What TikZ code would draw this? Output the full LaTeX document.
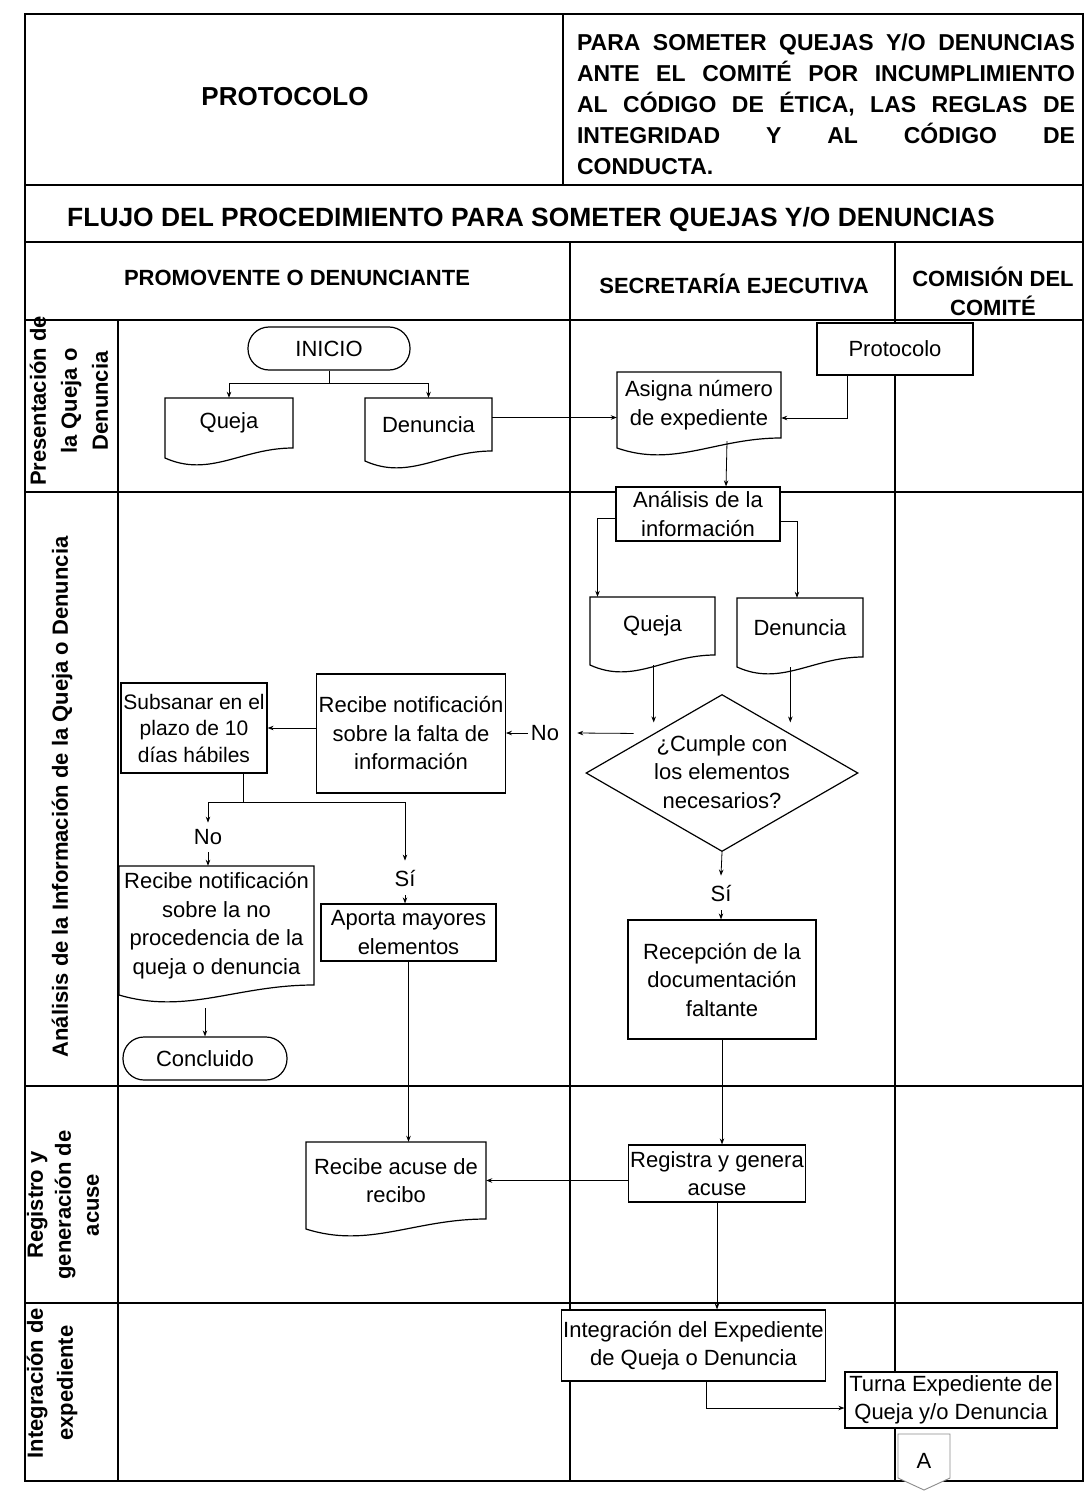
\documentclass[tikz,border=0pt]{standalone}
\usepackage{fontspec}
\setmainfont{Liberation Sans}
\usetikzlibrary{arrows.meta,shapes.geometric,calc}

\tikzset{
  base/.style={font=\fontsize{22}{28.5}\selectfont, inner sep=2pt},
  box/.style={base, draw, fill=white, line width=1.2pt, align=center},
  term/.style={box, rounded corners=21pt},
  doctxt/.style={base, align=center},
  docline/.style={draw, fill=white, line width=1.2pt},
  diashape/.style={draw, fill=white, line width=1.2pt, shape=diamond, inner sep=0pt, minimum width=272pt, minimum height=157pt},
  lbl/.style={base, inner sep=3pt},
  arr/.style={draw, line width=0.8pt, -{Stealth[length=6pt,width=4.5pt]}},
  conn/.style={draw, line width=0.8pt},
  tbl/.style={line width=1.8pt},
  col/.style={line width=1.3pt},
  hdr/.style={font=\bfseries\fontsize{22}{29}\selectfont, align=center},
  lane/.style={font=\bfseries\fontsize{22}{31}\selectfont, align=center, rotate=90},
}

% document shape: name, x0, top, x1, right-bottom corner, text
\newcommand\docnode[6]{%
  \path[docline] (#2,#3) -- (#4,#3) -- (#4,#5)
    .. controls ({#2+0.6*(#4-#2)},#5) and ({#2+0.35*(#4-#2)},{#5+30}) ..
    (#2,{#5+10}) -- cycle;
  \node[doctxt, minimum width={(#4-#2)*1pt}, minimum height={(#5-#3)*1pt}]
    (#1) at ({(#2+#4)/2},{(#3+#5)/2}) {#6};
}
\newcommand\fullline[1]{\leavevmode\hbox to 498pt{#1}}

\begin{document}
\begin{tikzpicture}[x=1pt,y=-1pt]
\useasboundingbox (0,0) rectangle (1085,1495);

% ---------- table ----------
\draw[tbl] (25,14) rectangle (1083,1481);
\draw[tbl] (563,14) -- (563,185);
\draw[tbl] (25,185) -- (1083,185);
\draw[tbl] (25,242) -- (1083,242);
\draw[tbl] (25,320) -- (1083,320);
\draw[col] (570,242) -- (570,1481);
\draw[col] (895,242) -- (895,1481);
\draw[col] (118,320) -- (118,1481);
\draw[tbl] (25,492) -- (1083,492);
\draw[tbl] (25,1086) -- (1083,1086);
\draw[tbl] (25,1303) -- (1083,1303);

% ---------- headers ----------
\node[font=\bfseries\fontsize{26}{30}\selectfont] (hprot) at (285,97) {PROTOCOLO};
\node[font=\bfseries\fontsize{23}{31}\selectfont, text width=498pt, align=left, inner sep=0pt] (hdesc) at (826,104) {%
\fullline{PARA\hfill SOMETER\hfill QUEJAS\hfill Y/O\hfill DENUNCIAS}\\
\fullline{ANTE\hfill EL\hfill COMITÉ\hfill POR\hfill INCUMPLIMIENTO}\\
\fullline{AL\hfill CÓDIGO\hfill DE\hfill ÉTICA,\hfill LAS\hfill REGLAS\hfill DE}\\
\fullline{INTEGRIDAD\hfill Y\hfill AL\hfill CÓDIGO\hfill DE}\\
CONDUCTA.};
\node[font=\bfseries\fontsize{26.4}{30}\selectfont] (htitle) at (531,220) {FLUJO DEL PROCEDIMIENTO PARA SOMETER QUEJAS Y/O DENUNCIAS};
\node[hdr] (hprom) at (297,278) {PROMOVENTE O DENUNCIANTE};
\node[hdr] (hsec) at (734,284) {SECRETARÍA EJECUTIVA};
\node[hdr] (hcom) at (993,291) {COMISIÓN DEL\\COMITÉ};

% ---------- lane labels ----------
\node[lane] (l1) at (69,401) {Presentación de\\la Queja o\\Denuncia};
\node[lane] (l2) at (62,797) {Análisis de la Información de la Queja o Denuncia};
\node[lane, font=\bfseries\fontsize{22}{28}\selectfont] (l3) at (63,1205) {Registro y\\generación de\\acuse};
\node[lane, font=\bfseries\fontsize{22}{30}\selectfont] (l4) at (52,1383) {Integración de\\expediente};

% ---------- nodes ----------
\node[term, minimum width=162pt, minimum height=43pt] (inicio) at (329,348.5) {INICIO};
\docnode{queja1}{165}{398}{293}{448}{Queja}
\docnode{den1}{365}{398}{492}{451}{Denuncia}
\node[box, minimum width=156pt, minimum height=52pt] (proto) at (895,349) {Protocolo};
\docnode{asigna}{617}{372}{781}{438}{Asigna número\\de expediente}
\node[box, minimum width=164pt, minimum height=54pt, inner sep=0pt] (anal) at (698,514) {Análisis de la\\información};
\docnode{queja2}{590}{597}{715}{655}{Queja}
\docnode{den2}{737}{598}{863}{657}{Denuncia}
\node[diashape] (dia) at (722,773) {};
\node[base, align=center] (diatxt) at (722,772) {¿Cumple con\\los elementos\\necesarios?};
\node[box, minimum width=188pt, minimum height=119pt] (rfalta) at (411,733.5) {Recibe notificación\\sobre la falta de\\información};
\node[box, minimum width=146pt, minimum height=90pt, font=\fontsize{21}{26.5}\selectfont] (subs) at (194,728) {Subsanar en el\\plazo de 10\\días hábiles};
\docnode{rnp}{119}{866}{314}{985}{Recibe notificación\\sobre la no\\procedencia de la\\queja o denuncia}
\node[box, minimum width=175pt, minimum height=57pt] (aporta) at (408.5,932.5) {Aporta mayores\\elementos};
\node[term, minimum width=164pt, minimum height=43pt] (concl) at (205,1058.5) {Concluido};
\node[box, minimum width=188pt, minimum height=119pt] (recep) at (722,979.5) {Recepción de la\\documentación\\faltante};
\docnode{racuse}{306}{1142}{486}{1219}{Recibe acuse de\\recibo}
\node[box, minimum width=176pt, minimum height=57pt] (reg) at (717,1173.5) {Registra y genera\\acuse};
\node[box, minimum width=264pt, minimum height=71pt, inner sep=1pt] (integ) at (693.5,1345.5) {Integración del Expediente\\de Queja o Denuncia};
\node[box, minimum width=212pt, minimum height=56pt] (turna) at (951,1400) {Turna Expediente de\\Queja y/o Denuncia};
\path[draw=black!45, fill=white, line width=0.9pt] (898,1434) -- (950,1434) -- (950,1478) -- (924,1490) -- (898,1478) -- cycle;
\node[base] (offA) at (924,1461) {A};

% labels
\node[lbl] (no1) at (545,733) {No};
\node[lbl, inner ysep=7pt] (no2) at (208,837.5) {No};
\node[lbl, inner ysep=9pt] (si1) at (405,878) {Sí};
\node[lbl, inner ysep=9pt] (si2) at (721,893) {Sí};

% ---------- connectors ----------
\draw[arr] (inicio.south) -- ++(0,13) -| (queja1.north);
\draw[arr] (inicio.south) -- ++(0,13) -| (den1.north);
\draw[arr] ([yshift=7pt]den1.east) -- ([yshift=7pt]den1.east -| asigna.west);
\draw[arr] ([xshift=-48pt]proto.south) |- ([yshift=-13pt]asigna.east);
\draw[arr] ([xshift=28pt,yshift=-3pt]asigna.south) -- ([xshift=28pt]anal.north);
\draw[arr] ([yshift=-4pt]anal.west) -| ([xshift=-55pt]queja2.north);
\draw[arr] ([yshift=-7pt]anal.east) -| ([xshift=-3pt]den2.north);
\draw[arr] ($(queja2.south -| dia.north west)+(0,10)$) -- ($(dia.north west)+(0,-11)$);
\draw[arr] ($(den2.south -| dia.north east)+(0,10)$) -- ($(dia.north east)+(0,-11)$);
\draw[arr] ($(dia.north west)+(-20,0)$) -- ($(no1.east)+(15,0)$);
\draw[arr] (no1.west) -- (rfalta.east |- no1.west);
\draw[arr] (rfalta.west |- subs.east) -- (subs.east);
\coordinate (split) at ($(subs.south)+(49,29)$);
\draw[conn] (subs.south -| split) -- (split);
\draw[arr] (split) -| (no2.north);
\draw[arr] (split) -| (si1.north);
\draw[arr] (no2.south) -- (no2.south |- rnp.north);
\draw[arr] (si1.south) -- (si1.south |- aporta.north);
\draw[arr] ($(rnp.south -| concl.north)+(0,23)$) -- (concl.north);
\draw[arr] (aporta.south) -- (aporta.south |- racuse.north);
\draw[arr] (dia.south) -- (si2.north);
\draw[arr] (si2.south) -- (si2.south |- recep.north);
\draw[arr] (recep.south) -- (recep.south |- reg.north);
\draw[arr] (reg.west |- racuse.east) -- (racuse.east);
\draw[arr] (reg.south) -- (reg.south |- integ.north);
\draw[arr] ([xshift=13pt]integ.south) |- ([yshift=-8pt]turna.west);
\end{tikzpicture}
\end{document}
